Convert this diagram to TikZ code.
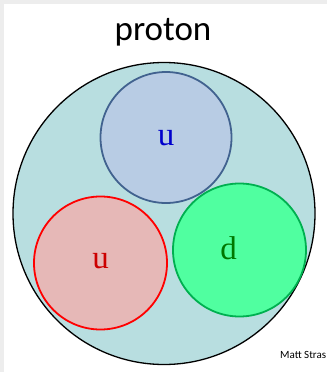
\documentclass[tikz,border=0pt]{standalone}
\usepackage{fontspec}
\setmainfont{Liberation Serif}
\newfontfamily\slidefont{Carlito}
\usetikzlibrary{positioning}

\definecolor{protonfill}{RGB}{184,222,224}
\definecolor{bluefill}{RGB}{184,204,228}
\definecolor{bluedraw}{RGB}{65,98,143}
\definecolor{redfill}{RGB}{230,184,183}
\definecolor{greenfill}{RGB}{80,255,160}
\definecolor{greendraw}{RGB}{0,176,80}
\definecolor{greentext}{RGB}{0,120,0}

\begin{document}
\begin{tikzpicture}[
    x=1pt, y=-1pt,
    proton/.style={circle, draw=black, line width=1.3pt, fill=protonfill, minimum size=302pt, inner sep=0pt},
    quark/.style={circle, line width=1.8pt, minimum size=131pt, inner sep=0pt},
    flavour/.style={font=\fontsize{33}{35}\selectfont, inner sep=0pt},
]

% Slide background
\fill[black!7] (0,0) rectangle (327,372);
\fill[white] (4,4) rectangle (327,372);
\useasboundingbox (0,0) rectangle (327,372);

% Title
\node[anchor=base, font=\slidefont\fontsize{35}{40}\selectfont] (title) at (163,40) {proton};

% Proton and its quarks
\node[proton] (p) at (164,213.5) {};
\node[quark, draw=bluedraw, fill=bluefill] (utop) at (166,137.5) {};
\node[quark, draw=red, fill=redfill, minimum size=133pt] (uleft) at (100.5,263) {};
\node[quark, draw=greendraw, fill=greenfill, minimum size=133pt] (down) at (239.5,250) {};

% Flavour letters
\node[flavour, text=blue!80!black] (utoplabel) at ([yshift=-1pt]utop.center) {u};
\node[flavour, text=red!80!black] (uleftlabel) at ([yshift=2pt]uleft.center) {u};
\node[flavour, text=greentext] (downlabel) at ([xshift=-11pt,yshift=2pt]down.center) {d};

% Credit
\node[anchor=base west, font=\slidefont\fontsize{11}{13}\selectfont, inner sep=0pt] (credit) at (280,358) {Matt Stras};

\end{tikzpicture}
\end{document}
